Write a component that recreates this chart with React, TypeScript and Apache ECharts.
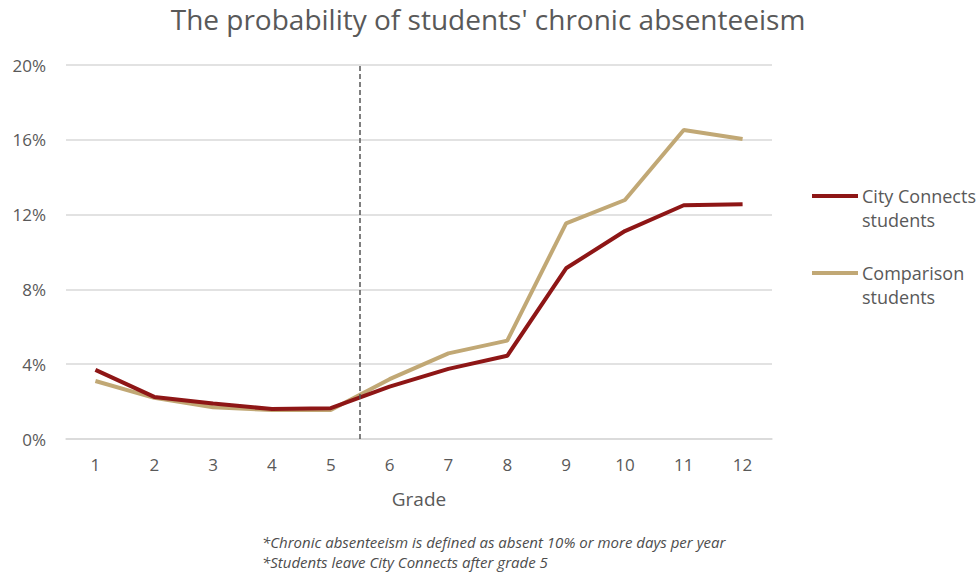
import React, { useEffect, useRef } from "react";
import * as echarts from "echarts";

const grades = ["1", "2", "3", "4", "5", "6", "7", "8", "9", "10", "11", "12"];
const cityConnects = [3.7, 2.25, 1.9, 1.6, 1.65, 2.8, 3.75, 4.45, 9.13, 11.12, 12.5, 12.55];
const comparison = [3.1, 2.2, 1.7, 1.55, 1.55, 3.2, 4.58, 5.26, 11.53, 12.78, 16.52, 16.04];
const yTicks = [0, 4, 8, 12, 16, 20];
const cutoffGrade = 5.5;
const legendLabels = ["City Connects\nstudents", "Comparison\nstudents"];
const footnotes = [
  "*Chronic absenteeism is defined as absent 10% or more days per year",
  "*Students leave City Connects after grade 5",
];

const RED = "#8e1616";
const TAN = "#c1a875";
const TEXT = "#595959";
const FONT = "'Open Sans', 'Noto Sans', sans-serif";

export default function App() {
  const ref = useRef<HTMLDivElement>(null);
  useEffect(() => {
    if (!ref.current) return;
    const chart = echarts.init(ref.current, undefined, { renderer: "svg" });
    chart.setOption({
      animation: false,
      backgroundColor: "#ffffff",
      title: {
        text: "The probability of students' chronic absenteeism",
        left: "center",
        top: 0,
        textStyle: { color: TEXT, fontFamily: FONT, fontSize: 28, fontWeight: "normal" },
      },
      grid: { left: 66, right: 204, top: 65, bottom: 135, containLabel: false },
      xAxis: [
        {
          type: "category",
          data: grades,
          boundaryGap: true,
          name: "Grade",
          nameLocation: "middle",
          nameGap: 50,
          nameTextStyle: { color: TEXT, fontFamily: FONT, fontSize: 19 },
          axisLine: { lineStyle: { color: "#d9d9d9", width: 1.5 } },
          axisTick: { show: false },
          axisLabel: { color: TEXT, fontFamily: FONT, fontSize: 17, margin: 17 },
        },
        {
          type: "value",
          min: 0.5,
          max: grades.length + 0.5,
          show: false,
          position: "bottom",
        },
      ],
      yAxis: {
        type: "value",
        min: yTicks[0],
        max: yTicks[yTicks.length - 1],
        interval: 4,
        axisLine: { show: false },
        axisTick: { show: false },
        splitLine: { lineStyle: { color: "#d9d9d9", width: 1.5 } },
        axisLabel: {
          color: TEXT,
          fontFamily: FONT,
          fontSize: 17,
          margin: 20,
          formatter: (v: number) => `${v}%`,
        },
      },
      series: [
        {
          name: "cutoff",
          type: "line",
          xAxisIndex: 1,
          data: [],
          symbol: "none",
          markLine: {
            silent: true,
            symbol: "none",
            label: { show: false },
            lineStyle: { color: "#555555", type: [5, 3], width: 1.5 },
            data: [[{ coord: [cutoffGrade, yTicks[0]] }, { coord: [cutoffGrade, yTicks[yTicks.length - 1]] }]],
          },
          z: 1,
        },
        {
          name: "Comparison students",
          type: "line",
          data: comparison,
          symbol: "none",
          lineStyle: { color: TAN, width: 4 },
          itemStyle: { color: TAN },
          z: 2,
        },
        {
          name: "City Connects students",
          type: "line",
          data: cityConnects,
          symbol: "none",
          lineStyle: { color: RED, width: 4 },
          itemStyle: { color: RED },
          z: 3,
        },
      ],
      graphic: [
        { type: "line", shape: { x1: 812, y1: 196, x2: 858, y2: 196 }, style: { stroke: RED, lineWidth: 4 } },
        {
          type: "text",
          x: 862,
          y: 184,
          style: { text: legendLabels[0], fill: TEXT, font: `18px ${FONT}`, lineHeight: 24 },
        },
        { type: "line", shape: { x1: 812, y1: 273, x2: 858, y2: 273 }, style: { stroke: TAN, lineWidth: 4 } },
        {
          type: "text",
          x: 862,
          y: 261,
          style: { text: legendLabels[1], fill: TEXT, font: `18px ${FONT}`, lineHeight: 24 },
        },
        {
          type: "text",
          x: 262,
          y: 542,
          style: {
            text: footnotes[0],
            fill: "#4d4d4d",
            font: `italic 15px ${FONT}`,
            verticalAlign: "middle",
          },
        },
        {
          type: "text",
          x: 262,
          y: 562,
          style: {
            text: footnotes[1],
            fill: "#4d4d4d",
            font: `italic 15px ${FONT}`,
            verticalAlign: "middle",
          },
        },
      ],
    });
    return () => chart.dispose();
  }, []);
  return <div ref={ref} style={{ position: "fixed", left: 0, top: 0, width: 976, height: 574 }} />;
}
